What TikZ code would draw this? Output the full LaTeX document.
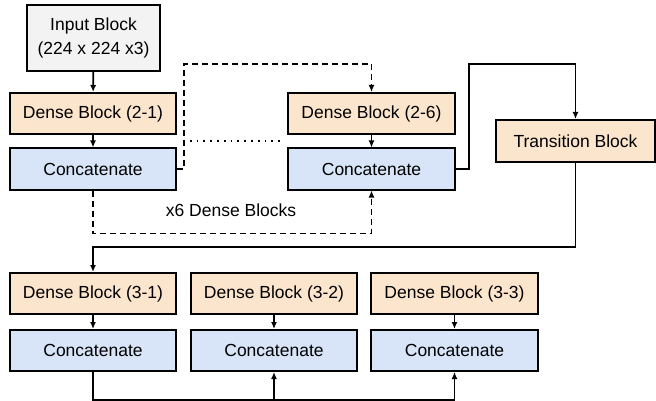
\documentclass[tikz,border=0pt]{standalone}
\usepackage{fontspec}
\setmainfont{Liberation Sans}
\usetikzlibrary{arrows.meta}
\definecolor{orfill}{HTML}{FCE5CD}
\definecolor{blfill}{HTML}{D8E5F8}
\definecolor{grfill}{HTML}{F3F3F3}
\begin{document}
\begin{tikzpicture}[x=1pt,y=-1pt,
  box/.style={draw=black,line width=2pt,inner sep=0pt,font=\fontsize{17.5}{24}\selectfont,align=center},
  obox/.style={box,fill=orfill,minimum width=166pt,minimum height=41pt},
  bbox/.style={box,fill=blfill,minimum width=166pt,minimum height=41pt},
  conn/.style={line width=1.8pt,-{Latex[length=7pt,width=6pt]}},
  dsh/.style={conn,dash pattern=on 6pt off 4pt},
  dots/.style={line width=1.8pt,dash pattern=on 1.8pt off 5pt}]
\useasboundingbox (0,0) rectangle (656,401);
\node[box,fill=grfill,minimum width=133pt,minimum height=66pt] (in) at (93.5,38) {Input Block\\(224 x 224 x3)};
\node[obox] (d21) at (93,113.5) {Dense Block (2-1)};
\node[bbox] (c21) at (93,169) {Concatenate};
\node[obox,minimum width=167pt] (d26) at (371.5,113.5) {Dense Block (2-6)};
\node[bbox,minimum width=167pt] (c26) at (371.5,169) {Concatenate};
\node[obox,minimum width=159pt,minimum height=42pt] (tr) at (575.5,141) {Transition Block};
\node[obox] (d31) at (93,293.5) {Dense Block (3-1)};
\node[bbox] (c31) at (93,350.5) {Concatenate};
\node[obox] (d32) at (274,293.5) {Dense Block (3-2)};
\node[bbox] (c32) at (274,350.5) {Concatenate};
\node[obox,minimum width=167pt] (d33) at (454.5,293.5) {Dense Block (3-3)};
\node[bbox,minimum width=167pt] (c33) at (454.5,350.5) {Concatenate};
\node[font=\fontsize{17.5}{20}\selectfont] (lbl) at (231,210) {x6 Dense Blocks};
% connectors
\draw[conn] (in) -- (d21);
\draw[conn] (d21) -- (c21);
\draw[conn] (d26) -- (c26);
\draw[conn] (d31) -- (c31);
\draw[conn] (d32) -- (c32);
\draw[conn] (d33) -- (c33);
\draw[dsh] (c21.east) -- ++(7,0) |- ([yshift=28pt]d26.north) -- (d26.north);
\draw[dsh] (c21.south) -- ++(0,43) -| (c26.south);
\coordinate (dotA) at (183,141);
\coordinate (dotB) at (283,141);
\draw[dots] (dotA) -- (dotB);
\draw[conn] (c26.east) -- ++(13,0) |- ([yshift=55pt]tr.north) -- (tr.north);
\draw[conn] (tr.south) -- ++(0,84) -| (d31.north);
\draw[conn] (c31.south) -- ++(0,28) -| (c33.south);
\coordinate (bot) at (274,399);
\draw[conn] (bot) -- (c32.south);
\end{tikzpicture}
\end{document}
